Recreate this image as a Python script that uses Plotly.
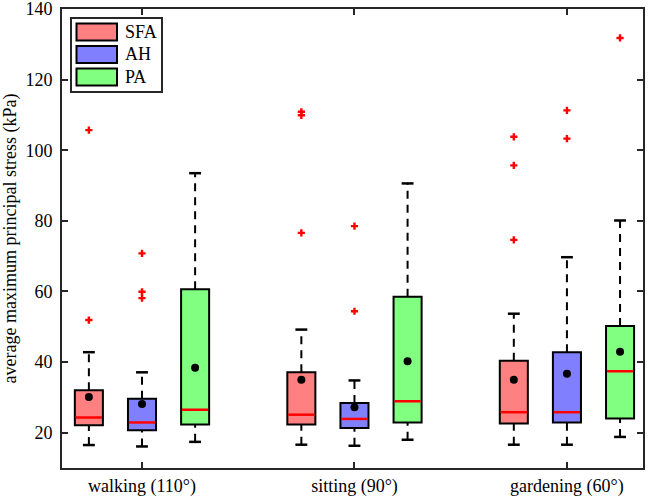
import plotly.graph_objects as go

# categories and groups
categories = ["walking (110°)", "sitting (90°)", "gardening (60°)"]
groups = ["SFA", "AH", "PA"]

# box statistics per group (one value per category)
q1 = {"SFA": [22.1, 22.3, 22.6], "AH": [20.7, 21.3, 22.9], "PA": [22.3, 22.9, 24.0]}
median = {"SFA": [24.3, 25.1, 25.8], "AH": [22.9, 23.9, 25.8], "PA": [26.5, 28.9, 37.4]}
q3 = {"SFA": [32.0, 37.1, 40.4], "AH": [29.6, 28.4, 42.8], "PA": [60.6, 58.5, 50.2]}
mean = {"SFA": [30.1, 35.0, 35.0], "AH": [28.1, 27.2, 36.7], "PA": [38.4, 40.2, 42.9]}
lower = {"SFA": [16.5, 16.6, 16.6], "AH": [16.1, 16.3, 16.6], "PA": [17.4, 18.0, 18.8]}
upper = {"SFA": [42.8, 49.2, 53.7], "AH": [37.1, 34.8, 69.7], "PA": [93.5, 90.6, 80.1]}
outliers = {
    "SFA": [[105.7, 51.9], [110.9, 109.9, 76.6], [103.8, 95.7, 74.6]],
    "AH": [[70.8, 59.9, 58.1], [78.5, 54.4], [111.3, 103.3]],
    "PA": [[], [], [131.8]],
}

fills = {"SFA": "#FF8080", "AH": "#8080FF", "PA": "#80FF80"}
offsets = {"SFA": -0.25, "AH": 0.0, "PA": 0.25}
BOX_W = 0.132
CAP_W = 0.056
AXIS_COLOR = "#262626"
FONT = "Liberation Serif, Times New Roman, serif"

fig = go.Figure()

for g in groups:
    xs = [i + 1 + offsets[g] for i in range(len(categories))]

    # dashed whiskers
    wx, wy = [], []
    for i, x in enumerate(xs):
        wx += [x, x, None, x, x, None]
        wy += [q3[g][i], upper[g][i], None, lower[g][i], q1[g][i], None]
    fig.add_trace(go.Scatter(x=wx, y=wy, mode="lines", showlegend=False, hoverinfo="skip",
                             line=dict(color="black", width=2, dash="8px,6px")))

    # whisker caps
    cx, cy = [], []
    for i, x in enumerate(xs):
        cx += [x - CAP_W / 2, x + CAP_W / 2, None, x - CAP_W / 2, x + CAP_W / 2, None]
        cy += [upper[g][i], upper[g][i], None, lower[g][i], lower[g][i], None]
    fig.add_trace(go.Scatter(x=cx, y=cy, mode="lines", showlegend=False, hoverinfo="skip",
                             line=dict(color="black", width=2.5)))

    # boxes
    fig.add_trace(go.Bar(
        x=xs, base=q1[g], y=[b - a for a, b in zip(q1[g], q3[g])], width=BOX_W,
        marker=dict(color=fills[g], line=dict(color="black", width=2)),
        name=g, showlegend=False,
    ))

    # medians
    mx, my = [], []
    for i, x in enumerate(xs):
        mx += [x - BOX_W / 2 + 0.004, x + BOX_W / 2 - 0.004, None]
        my += [median[g][i], median[g][i], None]
    fig.add_trace(go.Scatter(x=mx, y=my, mode="lines", showlegend=False, hoverinfo="skip",
                             line=dict(color="#FF0000", width=2.5)))

    # means
    fig.add_trace(go.Scatter(x=xs, y=mean[g], mode="markers", showlegend=False,
                             marker=dict(color="black", size=8, symbol="circle")))

    # outliers
    ox, oy = [], []
    for i, x in enumerate(xs):
        for v in outliers[g][i]:
            ox.append(x)
            oy.append(v)
    fig.add_trace(go.Scatter(x=ox, y=oy, mode="markers", showlegend=False,
                             marker=dict(color="#FF0000", size=6, symbol="cross",
                                         line=dict(width=0))))

# manual MATLAB-style legend (pixel positions converted to paper coords)
L, T, W, H = 62, 9, 581, 459


def px(x):
    return (x - L) / W


def py(y):
    return 1 - (y - T) / H


fig.add_shape(type="rect", xref="paper", yref="paper", x0=px(71), x1=px(162), y0=py(18), y1=py(92),
              line=dict(color=AXIS_COLOR, width=2), fillcolor="white", layer="above")
for k, g in enumerate(groups):
    yc = 32 + k * 22.5
    fig.add_shape(type="rect", xref="paper", yref="paper", x0=px(76.5), x1=px(117),
                  y0=py(yc - 8.5), y1=py(yc + 8.5),
                  line=dict(color="black", width=2), fillcolor=fills[g], layer="above")
    fig.add_annotation(xref="paper", yref="paper", x=px(123), y=py(yc), text=g, showarrow=False,
                       xanchor="left", yanchor="middle", font=dict(family=FONT, size=18, color="black"))

fig.update_layout(
    width=649, height=499,
    margin=dict(l=62, r=6, t=9, b=31),
    plot_bgcolor="white", paper_bgcolor="white",
    barmode="overlay",
    font=dict(family=FONT, size=18, color="black"),
    showlegend=False,
    xaxis=dict(range=[0.6235, 3.358], tickvals=[1, 2, 3], ticktext=categories,
               showline=True, linecolor=AXIS_COLOR, linewidth=2, mirror="ticks",
               ticks="inside", ticklen=6, tickwidth=2, tickcolor=AXIS_COLOR,
               automargin=False, ticklabelstandoff=0, ticklabeloverflow="allow",
               showgrid=False, zeroline=False),
    yaxis=dict(range=[10, 140.001], tickvals=[20, 40, 60, 80, 100, 120, 140],
               title=dict(text="average maximum principal stress (kPa)", standoff=8,
                          font=dict(family=FONT, size=18)),
               showline=True, linecolor=AXIS_COLOR, linewidth=2, mirror="ticks",
               ticks="inside", ticklen=6, tickwidth=2, tickcolor=AXIS_COLOR,
               ticklabelstandoff=4, automargin=False, ticklabeloverflow="allow",
               showgrid=False, zeroline=False),
)

fig.write_html("out.html", config={"displayModeBar": False},
               post_script="document.body.style.margin='0';document.body.style.overflow='hidden';")
